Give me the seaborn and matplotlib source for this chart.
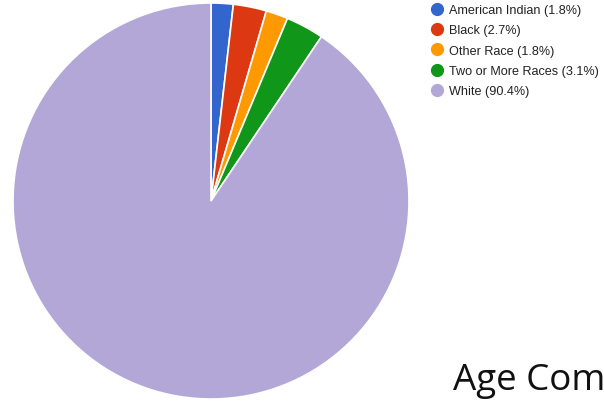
import matplotlib
matplotlib.use("Agg")
import matplotlib.pyplot as plt
import seaborn as sns
from matplotlib.lines import Line2D

sns.set_theme(style="white")
plt.rcParams['font.family'] = ['Liberation Sans', 'DejaVu Sans']

categories = ["American Indian", "Black", "Other Race", "Two or More Races", "White"]
values = [1.8, 2.7, 1.8, 3.1, 90.4]
colors = ["#3366CC", "#DC3912", "#FF9900", "#109618", "#B3A7D7"]
labels = [f"{c} ({v}%)" for c, v in zip(categories, values)]

W, H = 604, 402
fig = plt.figure(figsize=(W / 100, H / 100), dpi=100)
ax = fig.add_axes([0, 0, 1, 1])
cx, cy, r = 211, 202, 198
ax.pie(values, colors=colors, startangle=90, counterclock=False,
       wedgeprops=dict(edgecolor="white", linewidth=1.2))
ax.set_aspect("auto")
ax.set_xlim(-cx / r, (W - cx) / r)
ax.set_ylim(-(H - cy) / r, cy / r)
ax.axis("off")

handles = [Line2D([0], [0], marker="o", linestyle="", markersize=8.5,
                  markerfacecolor=c, markeredgecolor=c) for c in colors]
leg = fig.legend(handles, labels, loc="upper left",
                 bbox_to_anchor=(429 / W, 1 - 5 / H), frameon=False,
                 fontsize=9.1, handletextpad=0.4, labelspacing=0.66,
                 borderpad=0.0, handlelength=1.2, borderaxespad=0)
for t in leg.get_texts():
    t.set_color("#222222")

fig.text(453 / W, 1 - 390 / H, "Age Com", fontsize=26.5, family="Open Sans",
         color="#111111", ha="left", va="baseline")

fig.savefig("out.png", dpi=100)
